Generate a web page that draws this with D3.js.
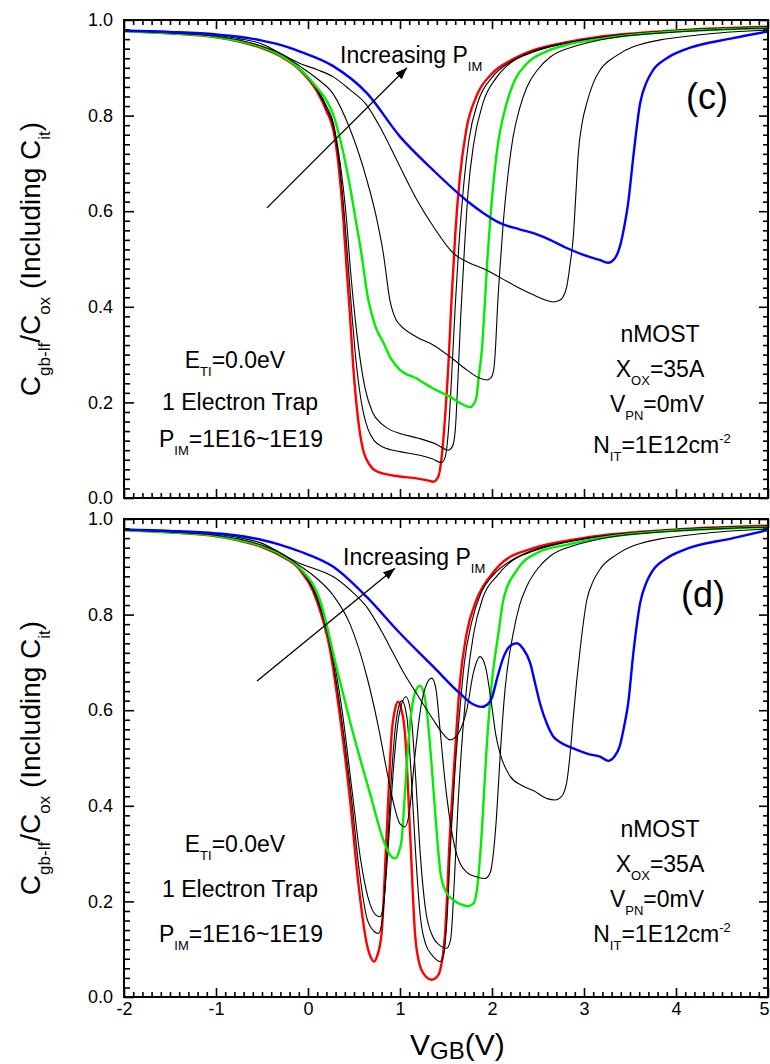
<!DOCTYPE html>
<html>
<head>
<meta charset="utf-8">
<script src="https://cdn.jsdelivr.net/npm/d3@7"></script>
<style>
body { margin: 0; background: #fff; }
text { font-family: Arial, "Liberation Sans", Helvetica, sans-serif; fill: #000; }
</style>
</head>
<body>
<svg></svg>
<script>
const width = 770;
const height = 1064;

// tick values
const vTicks = [-2, -1, 0, 1, 2, 3, 4, 5];
const cTicks = [0, 0.2, 0.4, 0.6, 0.8, 1.0];

// panel (c): [V_GB, C/Cox]
const cRed = [[-2,0.977],[-1.5,0.972],[-1,0.964],[-0.75,0.955],[-0.5,0.941],[-0.3,0.924],[-0.087,0.895],[0.1,0.85],[0.2,0.81],[0.275,0.77],[0.33,0.7],[0.385,0.58],[0.42,0.48],[0.457,0.38],[0.49,0.28],[0.53,0.19],[0.565,0.135],[0.6,0.1],[0.638,0.08],[0.7,0.062],[0.783,0.053],[0.9,0.048],[1.0,0.045],[1.18,0.041],[1.3,0.037],[1.36,0.034],[1.417,0.045],[1.453,0.086],[1.49,0.17],[1.525,0.275],[1.56,0.414],[1.6,0.55],[1.65,0.67],[1.72,0.77],[1.83,0.84],[2.0,0.888],[2.2,0.915],[2.45,0.937],[2.8,0.953],[3.17,0.965],[4,0.978],[5,0.986]];
const cBlackA = [[-2,0.977],[-1.5,0.972],[-1,0.964],[-0.75,0.955],[-0.5,0.942],[-0.3,0.925],[-0.087,0.896],[0.1,0.853],[0.2,0.815],[0.275,0.778],[0.34,0.7],[0.4,0.58],[0.44,0.48],[0.475,0.39],[0.51,0.31],[0.55,0.24],[0.6,0.18],[0.65,0.145],[0.72,0.12],[0.82,0.106],[1.0,0.097],[1.2,0.09],[1.35,0.082],[1.45,0.074],[1.49,0.085],[1.53,0.15],[1.56,0.25],[1.6,0.4],[1.64,0.53],[1.69,0.65],[1.75,0.75],[1.85,0.83],[2.0,0.88],[2.2,0.912],[2.45,0.935],[2.8,0.952],[3.17,0.964],[4,0.978],[5,0.985]];
const cBlackB = [[-2,0.977],[-1.5,0.972],[-1,0.965],[-0.75,0.956],[-0.5,0.943],[-0.3,0.926],[-0.087,0.898],[0.1,0.856],[0.2,0.82],[0.275,0.785],[0.35,0.7],[0.42,0.58],[0.46,0.48],[0.51,0.38],[0.56,0.3],[0.62,0.23],[0.7,0.18],[0.8,0.155],[0.9,0.142],[1.0,0.135],[1.2,0.125],[1.4,0.112],[1.525,0.1],[1.57,0.108],[1.6,0.14],[1.63,0.25],[1.66,0.38],[1.7,0.52],[1.74,0.64],[1.8,0.74],[1.9,0.825],[2.05,0.88],[2.2,0.91],[2.45,0.933],[2.8,0.951],[3.17,0.963],[4,0.978],[5,0.985]];
const cGreen = [[-2,0.977],[-1.5,0.972],[-1,0.965],[-0.75,0.956],[-0.5,0.943],[-0.3,0.926],[-0.087,0.897],[0.1,0.858],[0.2,0.832],[0.275,0.802],[0.35,0.75],[0.457,0.651],[0.52,0.58],[0.58,0.512],[0.65,0.42],[0.73,0.36],[0.82,0.325],[0.9,0.292],[1.0,0.268],[1.18,0.25],[1.36,0.229],[1.54,0.212],[1.68,0.196],[1.76,0.19],[1.8,0.196],[1.83,0.21],[1.86,0.26],[1.89,0.31],[1.92,0.4],[1.95,0.5],[1.98,0.58],[2.05,0.72],[2.16,0.826],[2.25,0.875],[2.38,0.909],[2.6,0.935],[2.81,0.948],[3.17,0.96],[3.54,0.969],[4.2,0.978],[5,0.983]];
const cBlackC = [[-2,0.977],[-1.5,0.973],[-1,0.966],[-0.75,0.958],[-0.5,0.945],[-0.3,0.93],[-0.087,0.903],[0.1,0.877],[0.275,0.845],[0.45,0.775],[0.64,0.665],[0.74,0.59],[0.82,0.51],[0.89,0.414],[0.96,0.372],[1.0,0.362],[1.18,0.337],[1.36,0.32],[1.54,0.296],[1.725,0.268],[1.85,0.252],[1.94,0.247],[1.99,0.252],[2.02,0.27],[2.04,0.32],[2.06,0.4],[2.09,0.49],[2.12,0.57],[2.17,0.67],[2.23,0.756],[2.3,0.815],[2.38,0.86],[2.5,0.897],[2.63,0.922],[2.9,0.945],[3.17,0.958],[4,0.975],[5,0.983]];
const cBlackD = [[-2,0.978],[-1.5,0.974],[-1,0.968],[-0.75,0.961],[-0.5,0.95],[-0.3,0.93],[-0.087,0.909],[0.1,0.896],[0.275,0.881],[0.45,0.855],[0.638,0.822],[0.8,0.77],[1.0,0.693],[1.18,0.625],[1.362,0.568],[1.58,0.512],[1.75,0.492],[1.905,0.48],[2.1,0.46],[2.268,0.442],[2.449,0.425],[2.6,0.413],[2.666,0.41],[2.73,0.413],[2.77,0.42],[2.81,0.44],[2.85,0.49],[2.884,0.547],[2.91,0.63],[2.938,0.721],[2.98,0.785],[3.03,0.826],[3.1,0.868],[3.174,0.895],[3.35,0.925],[3.536,0.944],[4.26,0.969],[5,0.979]];
const cBlue = [[-2,0.978],[-1.5,0.975],[-1,0.97],[-0.75,0.965],[-0.5,0.957],[-0.3,0.948],[-0.087,0.934],[0.27,0.904],[0.64,0.847],[1.0,0.756],[1.36,0.686],[1.72,0.623],[1.9,0.597],[2.09,0.575],[2.3,0.562],[2.45,0.554],[2.63,0.54],[2.81,0.523],[3.05,0.505],[3.17,0.498],[3.26,0.492],[3.33,0.5],[3.39,0.526],[3.44,0.57],[3.48,0.617],[3.54,0.721],[3.61,0.826],[3.68,0.87],[3.75,0.895],[3.9,0.92],[4.08,0.937],[4.62,0.962],[5,0.976]];

// panel (d)
const dRed = [[-2,0.977],[-1.5,0.972],[-1,0.964],[-0.75,0.955],[-0.5,0.941],[-0.3,0.923],[-0.087,0.893],[0.094,0.83],[0.24,0.726],[0.348,0.586],[0.457,0.412],[0.547,0.238],[0.638,0.112],[0.69,0.08],[0.717,0.074],[0.75,0.085],[0.8,0.133],[0.855,0.342],[0.91,0.552],[0.95,0.605],[0.98,0.618],[1.01,0.605],[1.054,0.552],[1.11,0.342],[1.163,0.133],[1.21,0.07],[1.253,0.05],[1.345,0.036],[1.4,0.042],[1.435,0.055],[1.49,0.133],[1.543,0.342],[1.6,0.517],[1.65,0.656],[1.725,0.761],[1.83,0.83],[2.0,0.885],[2.09,0.905],[2.45,0.939],[2.8,0.954],[3.17,0.965],[4,0.978],[5,0.986]];
const dBlackA = [[-2,0.977],[-1.5,0.972],[-1,0.964],[-0.75,0.955],[-0.5,0.942],[-0.3,0.924],[-0.087,0.895],[0.094,0.835],[0.24,0.735],[0.36,0.59],[0.47,0.42],[0.56,0.26],[0.64,0.165],[0.72,0.137],[0.765,0.133],[0.81,0.165],[0.86,0.3],[0.91,0.47],[0.96,0.58],[1.02,0.62],[1.075,0.585],[1.12,0.47],[1.17,0.3],[1.22,0.17],[1.28,0.11],[1.36,0.085],[1.435,0.074],[1.47,0.085],[1.51,0.16],[1.55,0.32],[1.6,0.48],[1.65,0.6],[1.7,0.7],[1.78,0.785],[1.88,0.845],[2.0,0.88],[2.2,0.912],[2.45,0.935],[2.8,0.952],[3.17,0.964],[4,0.978],[5,0.985]];
const dBlackB = [[-2,0.977],[-1.5,0.972],[-1,0.965],[-0.75,0.956],[-0.5,0.943],[-0.3,0.926],[-0.087,0.897],[0.094,0.84],[0.24,0.745],[0.37,0.6],[0.48,0.43],[0.57,0.29],[0.65,0.21],[0.73,0.173],[0.783,0.168],[0.825,0.2],[0.87,0.31],[0.93,0.48],[0.99,0.59],[1.065,0.628],[1.12,0.59],[1.17,0.46],[1.22,0.3],[1.28,0.18],[1.36,0.125],[1.44,0.107],[1.507,0.102],[1.55,0.12],[1.59,0.24],[1.63,0.4],[1.68,0.55],[1.73,0.66],[1.8,0.76],[1.9,0.835],[2.05,0.88],[2.2,0.91],[2.45,0.933],[2.8,0.951],[3.17,0.963],[4,0.978],[5,0.985]];
const dGreen = [[-2,0.977],[-1.5,0.972],[-1,0.965],[-0.75,0.956],[-0.5,0.943],[-0.3,0.926],[-0.087,0.897],[0.13,0.83],[0.31,0.69],[0.49,0.552],[0.674,0.426],[0.82,0.328],[0.9,0.295],[0.946,0.29],[0.99,0.305],[1.018,0.33],[1.045,0.4],[1.072,0.482],[1.126,0.6],[1.17,0.64],[1.217,0.651],[1.26,0.635],[1.29,0.6],[1.345,0.482],[1.4,0.342],[1.44,0.26],[1.5,0.22],[1.58,0.203],[1.67,0.193],[1.743,0.19],[1.8,0.196],[1.84,0.23],[1.888,0.342],[1.94,0.517],[1.997,0.656],[2.07,0.761],[2.123,0.83],[2.27,0.893],[2.5,0.93],[2.81,0.946],[3.54,0.969],[5,0.983]];
const dBlackC = [[-2,0.977],[-1.5,0.973],[-1,0.966],[-0.75,0.958],[-0.5,0.945],[-0.3,0.929],[-0.087,0.902],[0.1,0.875],[0.275,0.84],[0.457,0.78],[0.64,0.67],[0.76,0.57],[0.86,0.47],[0.95,0.39],[1.0,0.362],[1.054,0.356],[1.1,0.385],[1.16,0.5],[1.23,0.61],[1.29,0.655],[1.345,0.667],[1.39,0.645],[1.435,0.56],[1.49,0.45],[1.543,0.37],[1.6,0.31],[1.652,0.28],[1.72,0.262],[1.82,0.252],[1.924,0.248],[1.98,0.26],[2.02,0.31],[2.05,0.38],[2.087,0.5],[2.14,0.64],[2.23,0.76],[2.3,0.82],[2.38,0.86],[2.5,0.897],[2.63,0.922],[2.9,0.945],[3.17,0.958],[4,0.975],[5,0.983]];
const dBlackD = [[-2,0.978],[-1.5,0.974],[-1,0.968],[-0.75,0.961],[-0.5,0.949],[-0.3,0.929],[-0.087,0.907],[0.1,0.894],[0.275,0.879],[0.45,0.853],[0.638,0.816],[0.8,0.765],[0.927,0.719],[1.05,0.675],[1.18,0.635],[1.362,0.58],[1.45,0.555],[1.543,0.538],[1.63,0.55],[1.725,0.6],[1.8,0.68],[1.87,0.712],[1.93,0.69],[1.99,0.62],[2.04,0.55],[2.087,0.51],[2.196,0.462],[2.32,0.443],[2.449,0.432],[2.6,0.415],[2.685,0.412],[2.75,0.418],[2.81,0.447],[2.85,0.51],[2.884,0.586],[2.92,0.66],[2.957,0.726],[3.03,0.83],[3.1,0.87],[3.174,0.895],[3.35,0.925],[3.536,0.944],[4.26,0.969],[5,0.979]];
const dBlue = [[-2,0.978],[-1.5,0.975],[-1,0.97],[-0.75,0.965],[-0.5,0.956],[-0.3,0.946],[-0.087,0.932],[0.275,0.9],[0.638,0.837],[1.0,0.761],[1.362,0.691],[1.652,0.635],[1.8,0.612],[1.888,0.607],[1.95,0.612],[1.997,0.625],[2.06,0.67],[2.123,0.71],[2.2,0.735],[2.268,0.74],[2.34,0.728],[2.413,0.7],[2.47,0.655],[2.522,0.614],[2.6,0.57],[2.666,0.545],[2.75,0.532],[2.884,0.52],[3.05,0.508],[3.174,0.503],[3.264,0.494],[3.33,0.503],[3.39,0.526],[3.44,0.57],[3.48,0.614],[3.536,0.719],[3.61,0.824],[3.68,0.868],[3.75,0.893],[3.9,0.918],[4.08,0.935],[4.62,0.96],[5,0.977]];

const svg = d3.select('svg')
    .attr('width', width).attr('height', height);

const x = d3.scaleLinear().domain([-2, 5]).range([124, 768]);

// rich text helper: parts are [text, size, baseline offset]
function rich(sel, parts) {
    let cur = 0;
    parts.forEach(([str, size, off]) => {
        sel.append('tspan').attr('font-size', size).attr('dy', off - cur).text(str);
        cur = off;
    });
    return sel;
}
function sub(s) { return [s, 13, 8]; }
function norm(s) { return [s, 23, 0]; }

svg.append('defs').append('marker')
    .attr('id', 'arrow')
    .attr('markerUnits', 'userSpaceOnUse')
    .attr('markerWidth', 13).attr('markerHeight', 9)
    .attr('refX', 12).attr('refY', 4.5)
    .attr('orient', 'auto')
    .append('path').attr('d', 'M0,0 L12,4.5 L0,9 Z').attr('fill', '#000');

const panels = [
    {
        top: 20, bottom: 498, xLabels: false,
        series: [cRed, cBlackA, cBlackB, cGreen, cBlackC, cBlackD, cBlue],
        tag: '(c)', tagPos: [707, 109],
        arrow: [[-0.446, 0.607], [1.076, 0.9]],
        incPos: [340, 63],
        left: [[235, 368], [240, 410], [241, 447]],
        right: [[660, 342], [660, 377], [657, 412], [662, 453]]
    },
    {
        top: 519, bottom: 997, xLabels: true,
        series: [dRed, dBlackA, dBlackB, dGreen, dBlackC, dBlackD, dBlue],
        tag: '(d)', tagPos: [703, 607],
        arrow: [[-0.554, 0.661], [0.946, 0.897]],
        incPos: [343, 565],
        left: [[235, 852], [240, 897], [241, 942]],
        right: [[660, 837], [660, 872], [657, 907], [662, 942]]
    }
];
const styles = [
    {color: '#ff0000', w: 2.4},
    {color: '#000', w: 1.1},
    {color: '#000', w: 1.1},
    {color: '#00ee00', w: 2.4},
    {color: '#000', w: 1.1},
    {color: '#000', w: 1.1},
    {color: '#0000ff', w: 2.4}
];

const vMinor = d3.range(-20, 51).map(d => d / 10).filter(d => !vTicks.includes(d));
const cMinor = d3.range(0, 51).map(d => d / 50).filter(d => Math.abs(d * 5 - Math.round(d * 5)) > 1e-6);

panels.forEach(p => {
    const y = d3.scaleLinear().domain([0, 1]).range([p.bottom, p.top]);
    const g = svg.append('g');

    g.append('clipPath').attr('id', 'clip' + p.top)
        .append('rect').attr('x', x(-2)).attr('y', p.top)
        .attr('width', x(5) - x(-2)).attr('height', p.bottom - p.top);

    const line = d3.line()
        .x(d => x(d[0])).y(d => y(d[1]))
        .curve(d3.curveMonotoneX);

    const curves = g.append('g').attr('clip-path', `url(#clip${p.top})`);
    p.series.forEach((s, i) => {
        curves.append('path')
            .datum(s)
            .attr('fill', 'none')
            .attr('stroke', styles[i].color)
            .attr('stroke-width', styles[i].w)
            .attr('stroke-linejoin', 'round')
            .attr('d', line);
    });

    // axes, all ticks pointing inward
    const axes = [
        [d3.axisBottom(x).tickValues(vTicks).tickSize(-9).tickPadding(5)
            .tickFormat(p.xLabels ? (d => String(d)) : ''), `translate(0,${p.bottom})`],
        [d3.axisBottom(x).tickValues(vMinor).tickSize(-5).tickFormat(''), `translate(0,${p.bottom})`],
        [d3.axisTop(x).tickValues(vTicks).tickSize(-9).tickFormat(''), `translate(0,${p.top})`],
        [d3.axisTop(x).tickValues(vMinor).tickSize(-5).tickFormat(''), `translate(0,${p.top})`],
        [d3.axisLeft(y).tickValues(cTicks).tickSize(-10).tickPadding(11)
            .tickFormat(d3.format('.1f')), `translate(${x(-2)},0)`],
        [d3.axisLeft(y).tickValues(cMinor).tickSize(-6).tickFormat(''), `translate(${x(-2)},0)`],
        [d3.axisRight(y).tickValues(cTicks).tickSize(-9).tickFormat(''), `translate(${x(5)},0)`],
        [d3.axisRight(y).tickValues(cMinor).tickSize(-5).tickFormat(''), `translate(${x(5)},0)`]
    ];
    axes.forEach(([ax, tr]) => {
        const a = g.append('g').attr('transform', tr).call(ax);
        a.select('.domain').remove();
        a.selectAll('line').attr('stroke', '#000').attr('stroke-width', 1.6);
        a.attr('font-size', 18).attr('font-family', 'Arial, "Liberation Sans", sans-serif');
        // keep the last x label inside the window
        a.selectAll('.tick text').filter(d => d === 5).attr('dx', -4);
    });

    g.append('rect')
        .attr('x', x(-2)).attr('y', p.top)
        .attr('width', x(5) - x(-2)).attr('height', p.bottom - p.top)
        .attr('fill', 'none').attr('stroke', '#000').attr('stroke-width', 2);

    // y label
    const yl = g.append('text')
        .attr('transform', `translate(40,${(p.top + p.bottom) / 2}) rotate(-90)`)
        .attr('text-anchor', 'middle');
    rich(yl, [['C', 28, 0], ['gb-lf', 17, 10], ['/C', 28, 0], ['ox', 17, 10],
        [' (Including C', 28, 0], ['it', 17, 10], [')', 28, 0]]);

    // arrow + label
    g.append('line')
        .attr('x1', x(p.arrow[0][0])).attr('y1', y(p.arrow[0][1]))
        .attr('x2', x(p.arrow[1][0])).attr('y2', y(p.arrow[1][1]))
        .attr('stroke', '#000').attr('stroke-width', 1.3)
        .attr('marker-end', 'url(#arrow)');
    rich(g.append('text').attr('x', p.incPos[0]).attr('y', p.incPos[1]),
        [norm('Increasing P'), sub('IM')]);

    g.append('text').attr('x', p.tagPos[0]).attr('y', p.tagPos[1])
        .attr('text-anchor', 'middle').attr('font-size', 36).text(p.tag);

    const leftLines = [
        [norm('E'), sub('TI'), norm('=0.0eV')],
        [norm('1 Electron Trap')],
        [norm('P'), sub('IM'), norm('=1E16~1E19')]
    ];
    leftLines.forEach((parts, i) => {
        rich(g.append('text').attr('x', p.left[i][0]).attr('y', p.left[i][1])
            .attr('text-anchor', 'middle'), parts);
    });
    const rightLines = [
        [norm('nMOST')],
        [norm('X'), sub('OX'), norm('=35A')],
        [norm('V'), sub('PN'), norm('=0mV')],
        [norm('N'), sub('IT'), norm('=1E12cm'), ['-2', 13, -10]]
    ];
    rightLines.forEach((parts, i) => {
        rich(g.append('text').attr('x', p.right[i][0]).attr('y', p.right[i][1])
            .attr('text-anchor', 'middle'), parts);
    });
});

// x axis title
rich(svg.append('text').attr('x', 410).attr('y', 1055),
    [['V', 30, 0], ['GB', 24, 4], ['(V)', 30, 0]]);
</script>
</body>
</html>
